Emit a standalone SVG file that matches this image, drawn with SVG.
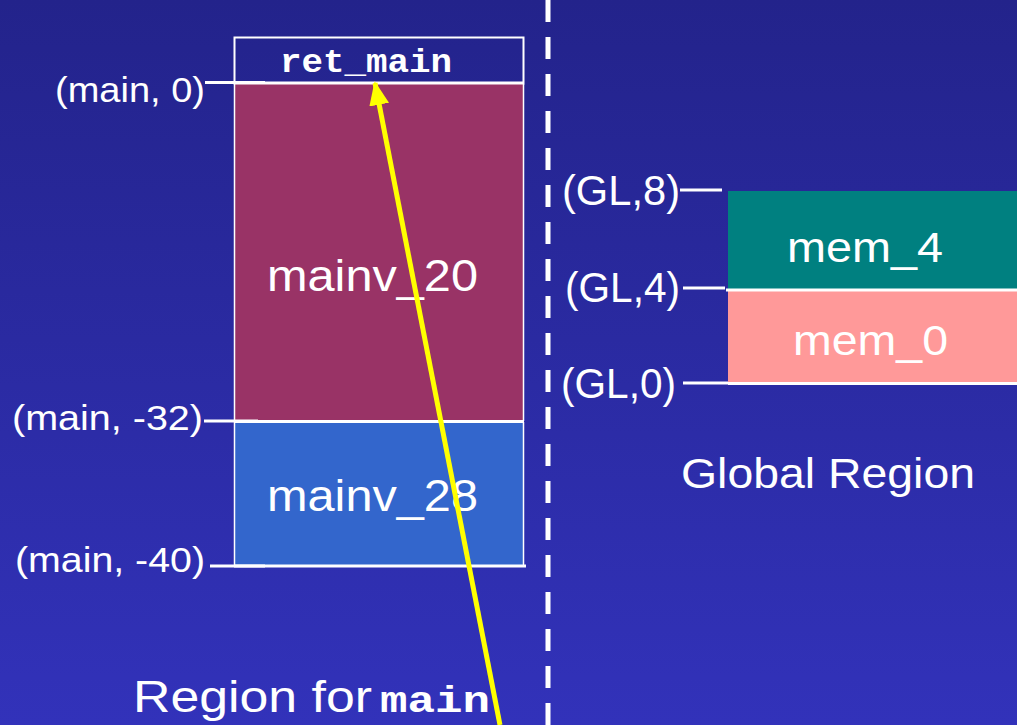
<svg xmlns="http://www.w3.org/2000/svg" width="1017" height="725" viewBox="0 0 1017 725">
<defs>
<linearGradient id="bg" x1="0" y1="0" x2="0" y2="1">
<stop offset="0" stop-color="#23238b"/>
<stop offset="1" stop-color="#3232ba"/>
</linearGradient>
<marker id="ah2" markerWidth="24" markerHeight="20" refX="22" refY="10" orient="auto" markerUnits="userSpaceOnUse" viewBox="0 0 24 20">
<path d="M0,0 L24,10 L0,20 z" fill="#ffff00"/>
</marker>
</defs>
<style>
.t{font-family:"Liberation Sans","DejaVu Sans",sans-serif;fill:#ffffff}
.m{font-family:"Liberation Mono","DejaVu Sans Mono",monospace;font-weight:bold;fill:#ffffff}
.w{stroke:#ffffff;stroke-width:3;fill:none}
</style>
<rect x="0" y="0" width="1017" height="725" fill="url(#bg)"/>

<g id="ret_main">
<rect x="234.5" y="37.5" width="289" height="46" fill="none" stroke="#ffffff" stroke-width="2"/>
<text class="m" x="280" y="72" font-size="33" textLength="172" lengthAdjust="spacingAndGlyphs">ret_main</text>
</g>
<g id="mainv_20">
<rect x="234" y="84" width="290" height="337" fill="#993366"/>
<line x1="234.5" y1="84" x2="234.5" y2="421" stroke="#ffffff" stroke-width="1.5"/>
<line x1="523.5" y1="84" x2="523.5" y2="421" stroke="#ffffff" stroke-width="1.5"/>
<text class="t" x="267" y="291" font-size="44" textLength="211" lengthAdjust="spacingAndGlyphs">mainv_20</text>
</g>
<g id="mainv_28">
<rect x="234" y="422" width="290" height="143" fill="#3366cc"/>
<line x1="234" y1="421.5" x2="524" y2="421.5" class="w" stroke-width="2"/>
<line x1="234.5" y1="422" x2="234.5" y2="566" stroke="#ffffff" stroke-width="1.5"/>
<line x1="523.5" y1="422" x2="523.5" y2="566" stroke="#ffffff" stroke-width="1.5"/>
<line x1="234" y1="566" x2="526" y2="566" class="w"/>
<text class="t" x="267" y="511" font-size="44" textLength="211" lengthAdjust="spacingAndGlyphs">mainv_28</text>
</g>
<line x1="234" y1="83" x2="524" y2="83" class="w" stroke-width="2.5"/>

<g id="main-labels">
<text class="t" x="55" y="102" font-size="35" textLength="150" lengthAdjust="spacingAndGlyphs">(main, 0)</text>
<line x1="205" y1="82.5" x2="265" y2="82.5" class="w"/>
<text class="t" x="12" y="430" font-size="35" textLength="191" lengthAdjust="spacingAndGlyphs">(main, -32)</text>
<line x1="204" y1="421" x2="258" y2="421" class="w"/>
<text class="t" x="15" y="572" font-size="35" textLength="190" lengthAdjust="spacingAndGlyphs">(main, -40)</text>
<line x1="210" y1="566" x2="265" y2="566" class="w"/>
<text class="t" x="133" y="712" font-size="44" textLength="239" lengthAdjust="spacingAndGlyphs">Region for</text>
<text class="m" x="380" y="712" font-size="36" textLength="110" lengthAdjust="spacingAndGlyphs">main</text>
</g>

<g id="divider">
<line x1="548" y1="0" x2="548" y2="725" stroke="#ffffff" stroke-width="5" stroke-dasharray="22,15"/>
</g>

<g id="mem_4">
<rect x="728" y="191" width="289" height="98" fill="#008080"/>
<text class="t" x="787" y="262" font-size="42" textLength="156" lengthAdjust="spacingAndGlyphs">mem_4</text>
</g>
<g id="mem_0">
<rect x="728" y="291" width="289" height="91" fill="#ff9999"/>
<text class="t" x="793" y="355" font-size="42" textLength="155" lengthAdjust="spacingAndGlyphs">mem_0</text>
</g>
<line x1="726" y1="290" x2="1017" y2="290" class="w"/>
<line x1="728" y1="383.5" x2="1017" y2="383.5" class="w" stroke-width="4"/>

<g id="gl-labels">
<text class="t" x="562" y="205" font-size="42" textLength="118" lengthAdjust="spacingAndGlyphs">(GL,8)</text>
<line x1="680" y1="190" x2="722" y2="190" class="w"/>
<text class="t" x="565" y="302" font-size="42" textLength="115" lengthAdjust="spacingAndGlyphs">(GL,4)</text>
<line x1="683" y1="288" x2="725" y2="288" class="w"/>
<text class="t" x="561" y="398" font-size="42" textLength="115" lengthAdjust="spacingAndGlyphs">(GL,0)</text>
<line x1="683" y1="383" x2="728" y2="383" class="w"/>
<text class="t" x="681" y="488" font-size="42" textLength="294" lengthAdjust="spacingAndGlyphs">Global Region</text>
</g>

<g id="connectors">
<line x1="500" y1="725" x2="375" y2="83" stroke="#ffff00" stroke-width="5" marker-end="url(#ah2)"/>
</g>
</svg>
